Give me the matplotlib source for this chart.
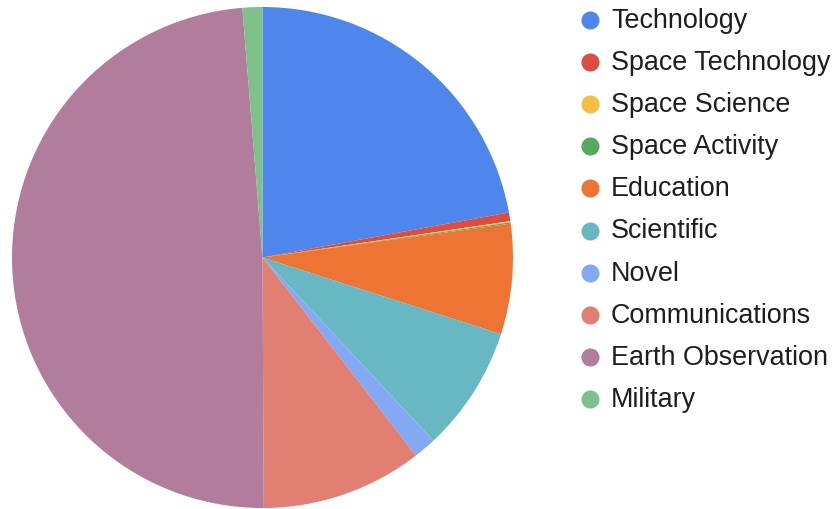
import matplotlib.pyplot as plt
from matplotlib.lines import Line2D

categories = ["Technology", "Space Technology", "Space Science", "Space Activity",
              "Education", "Scientific", "Novel", "Communications",
              "Earth Observation", "Military"]
shares = [22.1, 0.56, 0.08, 0.08, 7.1, 8.1, 1.45, 10.4, 48.75, 1.28]
colors = ["#4f86ec", "#dc4c3f", "#f4bf42", "#57a85f", "#ed7432",
          "#67b8c3", "#84a9f4", "#e07f72", "#b27c9c", "#7fc18b"]

W, H = 835, 510
fig = plt.figure(figsize=(W / 100, H / 100), dpi=100)

# pie: centre (262.5, 258.5) px from top-left, radius ~250 px
cx, cy, r = 262.5, 258.5, 250.5
ax = fig.add_axes([(cx - r) / W, (H - cy - r) / H, 2 * r / W, 2 * r / H])
ax.pie(shares, colors=colors, startangle=90, counterclock=False,
       radius=1, wedgeprops=dict(linewidth=0))
ax.set_xlim(-1, 1)
ax.set_ylim(-1, 1)
ax.set_aspect("equal")
ax.axis("off")

# legend drawn by hand: dot + label per row
row0, step = 20.5, 42.2
for i, (name, col) in enumerate(zip(categories, colors)):
    y = 1 - (row0 + i * step) / H
    fig.add_artist(Line2D([590 / W], [y], marker="o", markersize=12,
                          color=col, linestyle="none",
                          transform=fig.transFigure))
    fig.text(611 / W, y, name, fontsize=19.4, family="Liberation Sans",
             color="#1e1e1e", va="center", ha="left")

fig.savefig("out.png", dpi=100)
